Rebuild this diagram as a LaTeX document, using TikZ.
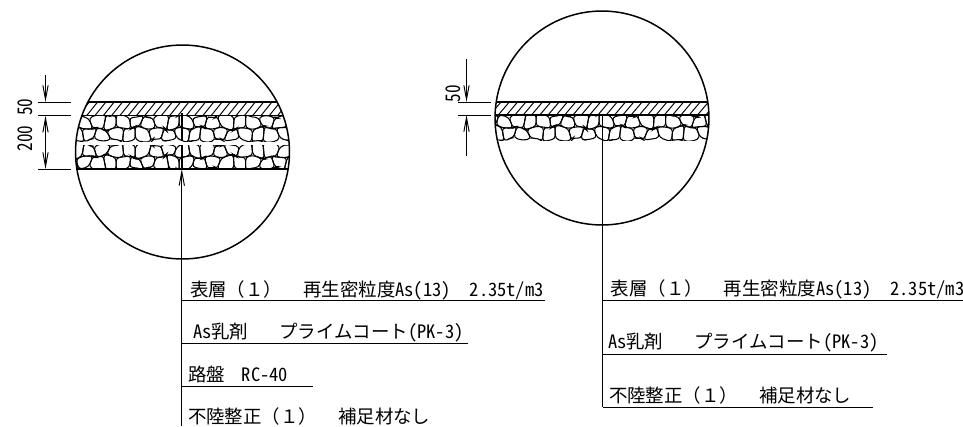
\documentclass[tikz,border=0pt]{standalone}
\usepackage{fontspec}
\setmainfont{Noto Sans CJK JP}
\newfontfamily\halffont[RawFeature=+hwid]{Noto Sans CJK JP}
\newcommand*{\hf}[1]{{\halffont #1}}
\usetikzlibrary{arrows.meta}
\tikzstyle{base}=[x=0.02cm, y=-0.02cm, inner sep=0pt, outer sep=0pt,
    declare function={
        gx(\i,\b)=6.5*\i + 2.2*sin(\i*71 + \b*137) + 1.2*sin(\i*193 + \b*41);
        gy(\i,\b)=12.3*\b + 1.8*sin(\i*113 + \b*59) + 1.0*sin(\i*37 + \b*211);
    }]
\tikzstyle{detail}=[draw, circle, line width=0.85pt, minimum size=4.28cm]
\tikzstyle{hair}=[line width=0.55pt]
\tikzstyle{band}=[line width=0.8pt]
\tikzstyle{stone}=[line width=0.6pt, rounded corners=2pt]
\tikzstyle{dim}=[hair, arrows={-Straight Barb[length=8pt,width=3pt]}]
\tikzstyle{textline}=[anchor=base west, font=\fontsize{10.5}{12}\selectfont]
\tikzstyle{dimtext}=[rotate=90, xscale=0.85, font=\halffont\fontsize{11.5}{12}\selectfont]

% one run of stones, hanging below y=0 of the scope
\newcommand*{\gravelrun}{
    \foreach \row/\odd in {0/0, 1/1} {
        \foreach \col in {0,...,18} {
            \pgfmathtruncatemacro{\ia}{2*\col + \odd}
            \pgfmathtruncatemacro{\ib}{\ia + 1}
            \pgfmathtruncatemacro{\ic}{\ia + 2}
            \pgfmathtruncatemacro{\low}{\row + 1}
            \draw [stone] ({gx(\ia,\row)},{gy(\ia,\row)}) -- ({gx(\ib,\row)},{gy(\ib,\row)})
                -- ({gx(\ic,\row)},{gy(\ic,\row)}) -- ({gx(\ic,\low)},{gy(\ic,\low)})
                -- ({gx(\ib,\low)},{gy(\ib,\low)}) -- ({gx(\ia,\low)},{gy(\ia,\low)}) -- cycle;
        }
    }
}

\begin{document}
\begin{tikzpicture}[base]
    \useasboundingbox (0,0) rectangle (963,426);

    % left detail
    \begin{scope}
        \clip (182.5,152) circle (107);
        \begin{scope}
            \clip (60,116) rectangle (310,141);
            \begin{scope}[shift={(64,116)}]
                \gravelrun
            \end{scope}
        \end{scope}
        \begin{scope}
            \clip (60,145) rectangle (310,169);
            \begin{scope}[shift={(64,169)}, yscale=-1]
                \gravelrun
            \end{scope}
        \end{scope}
        \foreach \hx in {70,78.3,...,300}
            \draw [hair] (\hx,115.7) -- (\hx + 11,102);
        \draw [band] (60,102) -- (310,102);
        \draw [band] (60,115.7) -- (310,115.7);
        \draw [band] (60,169) -- (310,169);
    \end{scope}
    \node [detail] (leftdetail) at (182.5,152) {};

    \coordinate (ltop) at (38,102);
    \coordinate (ltopend) at (71,102);
    \coordinate (lmid) at (38,115.7);
    \coordinate (lmidend) at (71,115.7);
    \coordinate (lbot) at (38,169);
    \coordinate (lbotend) at (71,169);
    \draw [hair] (ltop) -- (ltopend);
    \draw [hair] (lmid) -- (lmidend);
    \draw [hair] (lbot) -- (lbotend);
    \coordinate (la) at (45.5,75);
    \coordinate (lb) at (45.5,102);
    \coordinate (lc) at (45.5,115.7);
    \coordinate (ld) at (45.5,169);
    \draw [dim] (la) -- (lb);
    \draw [dim, arrows={Straight Barb[length=8pt,width=3pt]-Straight Barb[length=8pt,width=3pt]}] (lc) -- (ld);
    \node [dimtext] (lfifty) at (25,107) {50};
    \node [dimtext] (ltwohundred) at (25,138.7) {200};

    \coordinate (lleadtip) at (181.8,169);
    \coordinate (lleadend) at (181.8,426);
    \draw [dim] (lleadend) -- (lleadtip);
    \draw [line width=0.8pt] (181.8,113) -- (181.8,141) (181.8,145) -- (181.8,169);

    \coordinate (lr1) at (181.8,300.7);
    \coordinate (lr1end) at (545,300.7);
    \coordinate (lr2) at (181.8,343);
    \coordinate (lr2end) at (468,343);
    \coordinate (lr3) at (181.8,386);
    \coordinate (lr3end) at (312.7,386);
    \draw [hair] (lr1) -- (lr1end);
    \draw [hair] (lr2) -- (lr2end);
    \draw [hair] (lr3) -- (lr3end);
    \node [textline] (ltext1) at (190,296.7) {表層（１）\hspace{0.42cm}再生密粒度\hf{As(13)}\hspace{0.38cm}\hf{2.35t/m3}};
    \node [textline] (ltext2) at (193,338.5) {\hf{As}乳剤\hspace{0.62cm}プライムコート\hf{(PK-3)}};
    \node [textline] (ltext3) at (188,381.7) {路盤\hspace{0.34cm}\hf{RC-40}};
    \node [textline] (ltext4) at (188,423) {不陸整正（１）\hspace{0.42cm}補足材なし};

    % right detail
    \begin{scope}
        \clip (602,118) circle (107);
        \begin{scope}
            \clip (480,115) rectangle (730,140);
            \begin{scope}[shift={(484,115)}]
                \gravelrun
            \end{scope}
        \end{scope}
        \foreach \hx in {490,498.3,...,720}
            \draw [hair] (\hx,115) -- (\hx + 11,102);
        \draw [band] (480,102) -- (730,102);
        \draw [band] (480,115) -- (730,115);
    \end{scope}
    \node [detail] (rightdetail) at (602,118) {};

    \coordinate (rtop) at (458,102);
    \coordinate (rtopend) at (491,102);
    \coordinate (rmid) at (458,115);
    \coordinate (rmidend) at (491,115);
    \draw [hair] (rtop) -- (rtopend);
    \draw [hair] (rmid) -- (rmidend);
    \coordinate (ra) at (466.5,59);
    \coordinate (rb) at (466.5,102);
    \coordinate (rc) at (466.5,156);
    \coordinate (rd) at (466.5,115);
    \draw [dim] (ra) -- (rb);
    \draw [dim] (rc) -- (rd);
    \node [dimtext] (rfifty) at (453,93.5) {50};

    \coordinate (rleadtop) at (602.5,115);
    \coordinate (rleadend) at (602.5,407);
    \draw [hair] (rleadtop) -- (rleadend);

    \coordinate (rr1) at (602.5,300);
    \coordinate (rr1end) at (963,300);
    \coordinate (rr2) at (602.5,354);
    \coordinate (rr2end) at (887,354);
    \coordinate (rr3end) at (873,407);
    \draw [hair] (rr1) -- (rr1end);
    \draw [hair] (rr2) -- (rr2end);
    \draw [hair] (rleadend) -- (rr3end);
    \node [textline] (rtext1) at (610.7,295.5) {表層（１）\hspace{0.42cm}再生密粒度\hf{As(13)}\hspace{0.38cm}\hf{2.35t/m3}};
    \node [textline] (rtext2) at (608,348.5) {\hf{As}乳剤\hspace{0.62cm}プライムコート\hf{(PK-3)}};
    \node [textline] (rtext3) at (609,402) {不陸整正（１）\hspace{0.42cm}補足材なし};
\end{tikzpicture}
\end{document}
